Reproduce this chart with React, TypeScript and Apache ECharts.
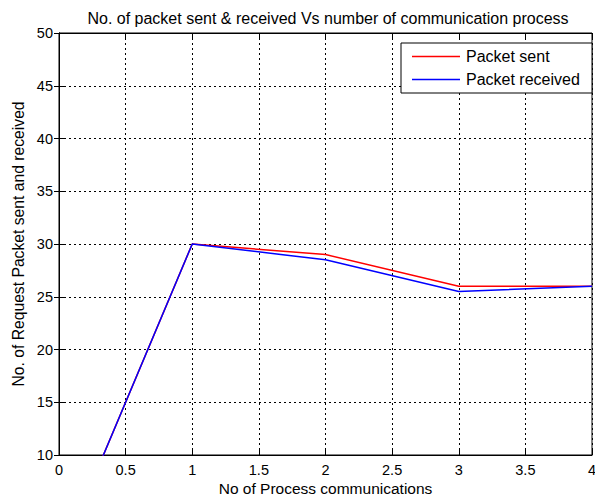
import React, { useEffect, useRef } from "react";
import * as echarts from "echarts";

const processes = [0, 1, 2, 3, 4];
const packetSent = [0, 30, 29, 26, 26];
const packetReceived = [0, 30, 28.5, 25.5, 26];
const seriesNames = ["Packet sent", "Packet received"];
const titleText = "No. of packet sent & received Vs number of communication process";
const xName = "No of Process communications";
const yName = "No. of Request Packet sent and received";

export default function App() {
  const ref = useRef<HTMLDivElement>(null);
  useEffect(() => {
    if (!ref.current) return;
    const chart = echarts.init(ref.current, null, { renderer: "svg" });
    const font = "Liberation Sans, Arial, sans-serif";
    const grid = { left: 59, right: 3, top: 33, bottom: 42 };
    const dotted = { show: true, lineStyle: { color: "#000", type: [2, 3] as any, width: 1 } };
    chart.setOption({
      animation: false,
      backgroundColor: "#fff",
      title: {
        text: titleText,
        left: 323,
        textAlign: "center",
        top: 5,
        textStyle: { fontFamily: font, fontSize: 16, fontWeight: "normal", color: "#000" },
      },
      grid: {
        ...grid,
        containLabel: false,
        outerBoundsMode: "none",
        show: true,
        borderColor: "#000",
        borderWidth: 1,
        backgroundColor: "#fff",
      },
      legend: {
        data: seriesNames,
        orient: "vertical",
        left: 401,
        top: 43,
        backgroundColor: "#fff",
        borderColor: "#000",
        borderWidth: 1,
        borderRadius: 0,
        padding: [5, 8, 5, 11],
        itemGap: 6,
        itemWidth: 48,
        itemHeight: 1.5,
        icon: "rect",
        textStyle: { fontFamily: font, fontSize: 16, color: "#000", lineHeight: 17, width: 118, padding: [0, 0, 0, 1] },
      },
      xAxis: [
        {
          type: "value",
          min: 0,
          max: 4,
          interval: 0.5,
          name: xName,
          nameLocation: "middle",
          nameGap: 25,
          nameMoveOverlap: false,
          nameTextStyle: { fontFamily: font, fontSize: 15.5, color: "#000", lineHeight: 16 },
          axisLine: { show: true, lineStyle: { color: "#000" } },
          axisTick: { show: true, inside: true, length: 5, lineStyle: { color: "#000" } },
          axisLabel: { fontFamily: font, fontSize: 14.5, color: "#000", margin: 8, lineHeight: 14 },
          splitLine: dotted,
        },
        {
          type: "value",
          position: "top",
          min: 0,
          max: 4,
          interval: 0.5,
          axisLine: { show: true, lineStyle: { color: "#000" } },
          axisTick: { show: true, inside: true, length: 5, lineStyle: { color: "#000" } },
          axisLabel: { show: false },
          splitLine: { show: false },
        },
      ],
      yAxis: [
        {
          type: "value",
          min: 10,
          max: 50,
          interval: 5,
          name: yName,
          nameLocation: "middle",
          nameGap: 33,
          nameMoveOverlap: false,
          nameTextStyle: { fontFamily: font, fontSize: 15.7, color: "#000" },
          axisLine: { show: true, lineStyle: { color: "#000" } },
          axisTick: { show: true, inside: true, length: 5, lineStyle: { color: "#000" } },
          axisLabel: { fontFamily: font, fontSize: 14.5, color: "#000", margin: 6 },
          splitLine: dotted,
        },
        {
          type: "value",
          position: "right",
          min: 10,
          max: 50,
          interval: 5,
          axisLine: { show: true, lineStyle: { color: "#000" } },
          axisTick: { show: true, inside: true, length: 5, lineStyle: { color: "#000" } },
          axisLabel: { show: false },
          splitLine: { show: false },
        },
      ],
      series: [
        {
          name: seriesNames[0],
          type: "line",
          data: processes.map((x, i) => [x, packetSent[i]]),
          symbol: "none",
          clip: true,
          lineStyle: { color: "#ff0000", width: 1.5 },
          itemStyle: { color: "#ff0000" },
        },
        {
          name: seriesNames[1],
          type: "line",
          data: processes.map((x, i) => [x, packetReceived[i]]),
          symbol: "none",
          clip: true,
          lineStyle: { color: "#0000ff", width: 1.5 },
          itemStyle: { color: "#0000ff" },
        },
      ],
    });
    return () => chart.dispose();
  }, []);
  return <div ref={ref} style={{ width: 595, height: 497, position: "absolute", left: 0, top: 0 }} />;
}
